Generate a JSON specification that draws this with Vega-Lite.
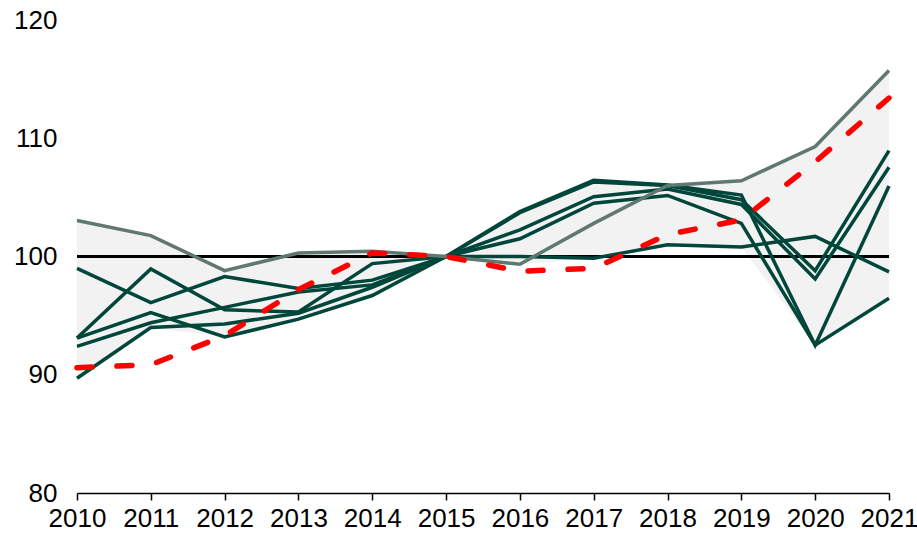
{
  "$schema": "https://vega.github.io/schema/vega-lite/v6.json",
  "width": 812,
  "height": 473,
  "autosize": {"type": "none"},
  "padding": {"left": 77, "top": 20, "right": 28, "bottom": 46},
  "background": "white",
  "config": {
    "view": {"stroke": null},
    "axis": {"grid": false, "labelFont": "Liberation Sans", "labelFontSize": 26, "labelColor": "#000000", "domainColor": "#000000", "tickColor": "#000000"}
  },
  "data": {
    "values": [
      {"year": 2010, "g1": 99.0, "g2": 93.1, "g3": 93.1, "g4": 92.4, "g5": 89.7, "gray": 103.04, "red": 90.6},
      {"year": 2011, "g1": 96.1, "g2": 98.95, "g3": 95.25, "g4": 94.4, "g5": 94.0, "gray": 101.77, "red": 90.85},
      {"year": 2012, "g1": 98.3, "g2": 95.5, "g3": 93.2, "g4": 95.7, "g5": 94.3, "gray": 98.8, "red": 93.3},
      {"year": 2013, "g1": 97.3, "g2": 95.3, "g3": 94.7, "g4": 97.0, "g5": 95.2, "gray": 100.3, "red": 97.2},
      {"year": 2014, "g1": 98.0, "g2": 99.4, "g3": 96.7, "g4": 97.6, "g5": 97.4, "gray": 100.45, "red": 100.3},
      {"year": 2015, "g1": 100, "g2": 100, "g3": 100, "g4": 100, "g5": 100, "gray": 100, "red": 100},
      {"year": 2016, "g1": 100.0, "g2": 103.8, "g3": 103.7, "g4": 102.25, "g5": 101.5, "gray": 99.35, "red": 98.75},
      {"year": 2017, "g1": 99.85, "g2": 106.45, "g3": 106.3, "g4": 105.06, "g5": 104.5, "gray": 102.8, "red": 99.0},
      {"year": 2018, "g1": 101.0, "g2": 106.05, "g3": 106.0, "g4": 105.7, "g5": 105.16, "gray": 106.0, "red": 101.85},
      {"year": 2019, "g1": 100.8, "g2": 105.2, "g3": 104.8, "g4": 104.4, "g5": 102.8, "gray": 106.4, "red": 103.1},
      {"year": 2020, "g1": 101.7, "g2": 92.5, "g3": 98.8, "g4": 98.1, "g5": 92.5, "gray": 109.3, "red": 108.0},
      {"year": 2021, "g1": 98.7, "g2": 105.97, "g3": 108.96, "g4": 107.55, "g5": 96.47, "gray": 115.73, "red": 113.4}
    ]
  },
  "layer": [
    {
      "transform": [
        {"fold": ["g1", "g2", "g3", "g4", "g5", "gray"], "as": ["s", "v"]},
        {"aggregate": [{"op": "min", "field": "v", "as": "lo"}, {"op": "max", "field": "v", "as": "hi"}], "groupby": ["year"]}
      ],
      "mark": {"type": "area", "color": "#f2f2f2", "opacity": 1},
      "encoding": {
        "x": {"field": "year", "type": "quantitative", "scale": {"domain": [2010, 2021], "nice": false, "zero": false},
              "axis": {"title": null, "values": [2010, 2011, 2012, 2013, 2014, 2015, 2016, 2017, 2018, 2019, 2020, 2021], "format": "d", "tickSize": 7, "tickWidth": 1.5, "domainWidth": 1.5, "labelPadding": 5, "labelOverlap": false, "labelFlush": false}},
        "y": {"field": "lo", "type": "quantitative", "scale": {"domain": [80, 120], "nice": false, "zero": false},
              "axis": {"title": null, "values": [80, 90, 100, 110, 120], "domain": false, "ticks": false, "tickSize": 0, "labelPadding": 20}},
        "y2": {"field": "hi"}
      }
    },
    {
      "mark": {"type": "rule", "color": "#000000", "strokeWidth": 2},
      "encoding": {"y": {"datum": 100, "type": "quantitative"}}
    },
    {
      "transform": [{"fold": ["g1", "g2", "g3", "g4", "g5"], "as": ["s", "v"]}],
      "mark": {"type": "line", "color": "#00463b", "strokeWidth": 3.5, "strokeJoin": "miter"},
      "encoding": {
        "x": {"field": "year", "type": "quantitative"},
        "y": {"field": "v", "type": "quantitative"},
        "detail": {"field": "s"}
      }
    },
    {
      "mark": {"type": "line", "color": "#5f7872", "strokeWidth": 3.5, "strokeJoin": "miter"},
      "encoding": {
        "x": {"field": "year", "type": "quantitative"},
        "y": {"field": "gray", "type": "quantitative"}
      }
    },
    {
      "mark": {"type": "line", "color": "#ff0000", "strokeWidth": 5.5, "strokeDash": [15, 25], "strokeCap": "round"},
      "encoding": {
        "x": {"field": "year", "type": "quantitative"},
        "y": {"field": "red", "type": "quantitative"}
      }
    }
  ]
}
